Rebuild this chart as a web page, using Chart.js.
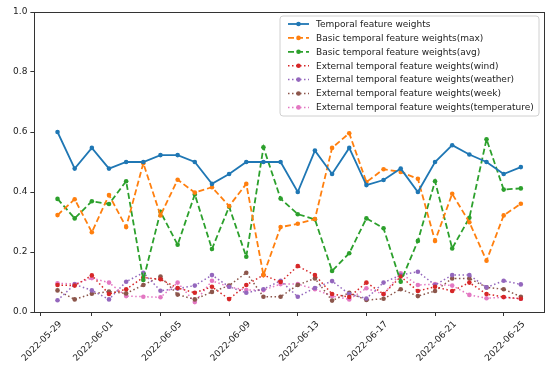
<!DOCTYPE html>
<html><head><meta charset="utf-8">
<script src="https://cdn.jsdelivr.net/npm/chart.js@4"></script>
<style>html,body{margin:0;padding:0;background:#fff}#wrap{width:550px;height:370px}</style>
</head><body><div id="wrap"><canvas id="c" width="550" height="370"></canvas></div>
<script>
const dates = ['2022-05-30','2022-05-31','2022-06-01','2022-06-02','2022-06-03','2022-06-04','2022-06-05',
  '2022-06-06','2022-06-07','2022-06-08','2022-06-09','2022-06-10','2022-06-11','2022-06-12','2022-06-13',
  '2022-06-14','2022-06-15','2022-06-16','2022-06-17','2022-06-18','2022-06-19','2022-06-20','2022-06-21',
  '2022-06-22','2022-06-23','2022-06-24','2022-06-25','2022-06-26'];
const tickDates = ['2022-05-29','2022-06-01','2022-06-05','2022-06-09','2022-06-13','2022-06-17','2022-06-21','2022-06-25'];
const yTicks = [0, 0.2, 0.4, 0.6, 0.8, 1.0];

const temporal = [0.600,0.478,0.547,0.478,0.500,0.500,0.523,0.523,0.500,0.427,0.460,0.500,0.500,0.500,
  0.400,0.538,0.460,0.547,0.423,0.440,0.478,0.400,0.500,0.556,0.525,0.500,0.460,0.483];
const basicMax = [0.323,0.376,0.266,0.390,0.283,0.496,0.322,0.441,0.398,0.416,0.353,0.427,0.123,0.283,
  0.294,0.310,0.547,0.596,0.433,0.476,0.467,0.444,0.237,0.394,0.299,0.171,0.322,0.361];
const basicAvg = [0.377,0.312,0.369,0.360,0.436,0.107,0.334,0.224,0.392,0.210,0.351,0.184,0.549,0.378,
  0.326,0.309,0.137,0.196,0.312,0.279,0.101,0.237,0.436,0.212,0.314,0.576,0.408,0.412];
const extWind = [0.090,0.088,0.122,0.060,0.076,0.115,0.109,0.080,0.064,0.084,0.043,0.090,0.123,0.100,
  0.153,0.123,0.060,0.050,0.098,0.060,0.118,0.070,0.084,0.070,0.098,0.060,0.050,0.044];
const extWeather = [0.039,0.092,0.072,0.042,0.101,0.131,0.071,0.078,0.088,0.123,0.084,0.064,0.076,0.104,
  0.051,0.080,0.103,0.060,0.045,0.098,0.123,0.134,0.090,0.123,0.123,0.082,0.104,0.092];
const extWeek = [0.072,0.042,0.061,0.068,0.062,0.090,0.118,0.058,0.042,0.067,0.088,0.131,0.051,0.051,
  0.090,0.112,0.038,0.064,0.040,0.044,0.076,0.053,0.070,0.112,0.112,0.082,0.076,0.051];
const extTemp = [0.096,0.093,0.113,0.098,0.053,0.051,0.049,0.098,0.033,0.104,0.084,0.073,0.073,0.093,
  0.093,0.076,0.053,0.042,0.079,0.059,0.129,0.090,0.093,0.088,0.057,0.046,0.049,0.044];

const base = Date.UTC(2022,4,29);
function dayOf(s){const p=s.split('-').map(Number);return (Date.UTC(p[0],p[1]-1,p[2])-base)/86400000;}
function pts(arr){return arr.map((v,i)=>({x:dayOf(dates[i]),y:v}));}

const FONT = {family:'"DejaVu Sans", sans-serif', size:9};
const dashed=[6,3], dotted=[1.5,2.5];
function ds(label, arr, color, dash, width){
  return {label, data:pts(arr), borderColor:color, backgroundColor:color, borderWidth:width,
    borderDash:dash, pointRadius:2.3, pointBorderWidth:0, pointBackgroundColor:color, tension:0, fill:false};
}
const datasets = [
  ds('Temporal feature weights', temporal, '#1f77b4', [], 1.8),
  ds('Basic temporal feature weights(max)', basicMax, '#ff7f0e', dashed, 1.8),
  ds('Basic temporal feature weights(avg)', basicAvg, '#2ca02c', dashed, 1.8),
  ds('External temporal feature weights(wind)', extWind, '#d62728', dotted, 1.5),
  ds('External temporal feature weights(weather)', extWeather, '#9467bd', dotted, 1.5),
  ds('External temporal feature weights(week)', extWeek, '#8c564b', dotted, 1.5),
  ds('External temporal feature weights(temperature)', extTemp, '#e377c2', dotted, 1.5)
];

const framePlugin = {
  id:'frame',
  afterDatasetsDraw(chart){
    const a=chart.chartArea, c=chart.ctx;
    c.save(); c.strokeStyle='#333'; c.lineWidth=1;
    c.strokeRect(Math.round(a.left)+0.5, Math.round(a.top)+0.5, Math.round(a.right-a.left), Math.round(a.bottom-a.top));
    c.restore();
  }
};
const legendPlugin = {
  id:'mplLegend',
  afterDraw(chart){
    const c=chart.ctx;
    const x0=280, y0=16, w=259, h=100, r=3;
    c.save();
    c.beginPath();
    c.moveTo(x0+r,y0); c.lineTo(x0+w-r,y0); c.quadraticCurveTo(x0+w,y0,x0+w,y0+r);
    c.lineTo(x0+w,y0+h-r); c.quadraticCurveTo(x0+w,y0+h,x0+w-r,y0+h);
    c.lineTo(x0+r,y0+h); c.quadraticCurveTo(x0,y0+h,x0,y0+h-r);
    c.lineTo(x0,y0+r); c.quadraticCurveTo(x0,y0,x0+r,y0); c.closePath();
    c.fillStyle='rgba(255,255,255,0.8)'; c.fill();
    c.strokeStyle='#d0d0d0'; c.lineWidth=1; c.stroke();
    c.font='9px "DejaVu Sans", sans-serif'; c.textBaseline='middle'; c.fillStyle='#222';
    chart.data.datasets.forEach((d,i)=>{
      const y=24+i*13.9;
      c.strokeStyle=d.borderColor; c.lineWidth=d.borderWidth; c.setLineDash(d.borderDash||[]);
      c.beginPath(); c.moveTo(288,y); c.lineTo(309,y); c.stroke(); c.setLineDash([]);
      c.fillStyle=d.borderColor; c.beginPath(); c.arc(298.5,y,2.3,0,Math.PI*2); c.fill();
      c.fillStyle='#222'; c.fillText(d.label,316,y+0.5);
    });
    c.restore();
  }
};

new Chart(document.getElementById('c'), {
  type:'line',
  data:{datasets},
  options:{
    responsive:false, animation:false, devicePixelRatio:1,
    layout:{padding:{left:0, top:12, right:6, bottom:0}},
    plugins:{legend:{display:false}, tooltip:{enabled:false}},
    scales:{
      x:{type:'linear', min:-0.35, max:29.35,
        afterBuildTicks(s){ s.ticks = tickDates.map(d=>({value:dayOf(d)})); },
        afterFit(s){ s.height = 58; },
        ticks:{autoSkip:false, maxRotation:45, minRotation:45, font:FONT, color:'#222', padding:3,
          labelOffset:20, callback:(v,i)=>tickDates[i]},
        grid:{drawOnChartArea:false, drawTicks:true, tickLength:4, color:'#333'},
        border:{display:true, color:'#333'}
      },
      y:{min:0, max:1,
        afterBuildTicks(s){ s.ticks = yTicks.map(v=>({value:v})); },
        afterFit(s){ s.width = 32; },
        ticks:{font:FONT, color:'#222', padding:3, callback:(v)=>Number(v).toFixed(1)},
        grid:{drawOnChartArea:false, drawTicks:true, tickLength:4, color:'#333'},
        border:{display:true, color:'#333'}
      }
    }
  },
  plugins:[framePlugin, legendPlugin]
});
</script></body></html>
